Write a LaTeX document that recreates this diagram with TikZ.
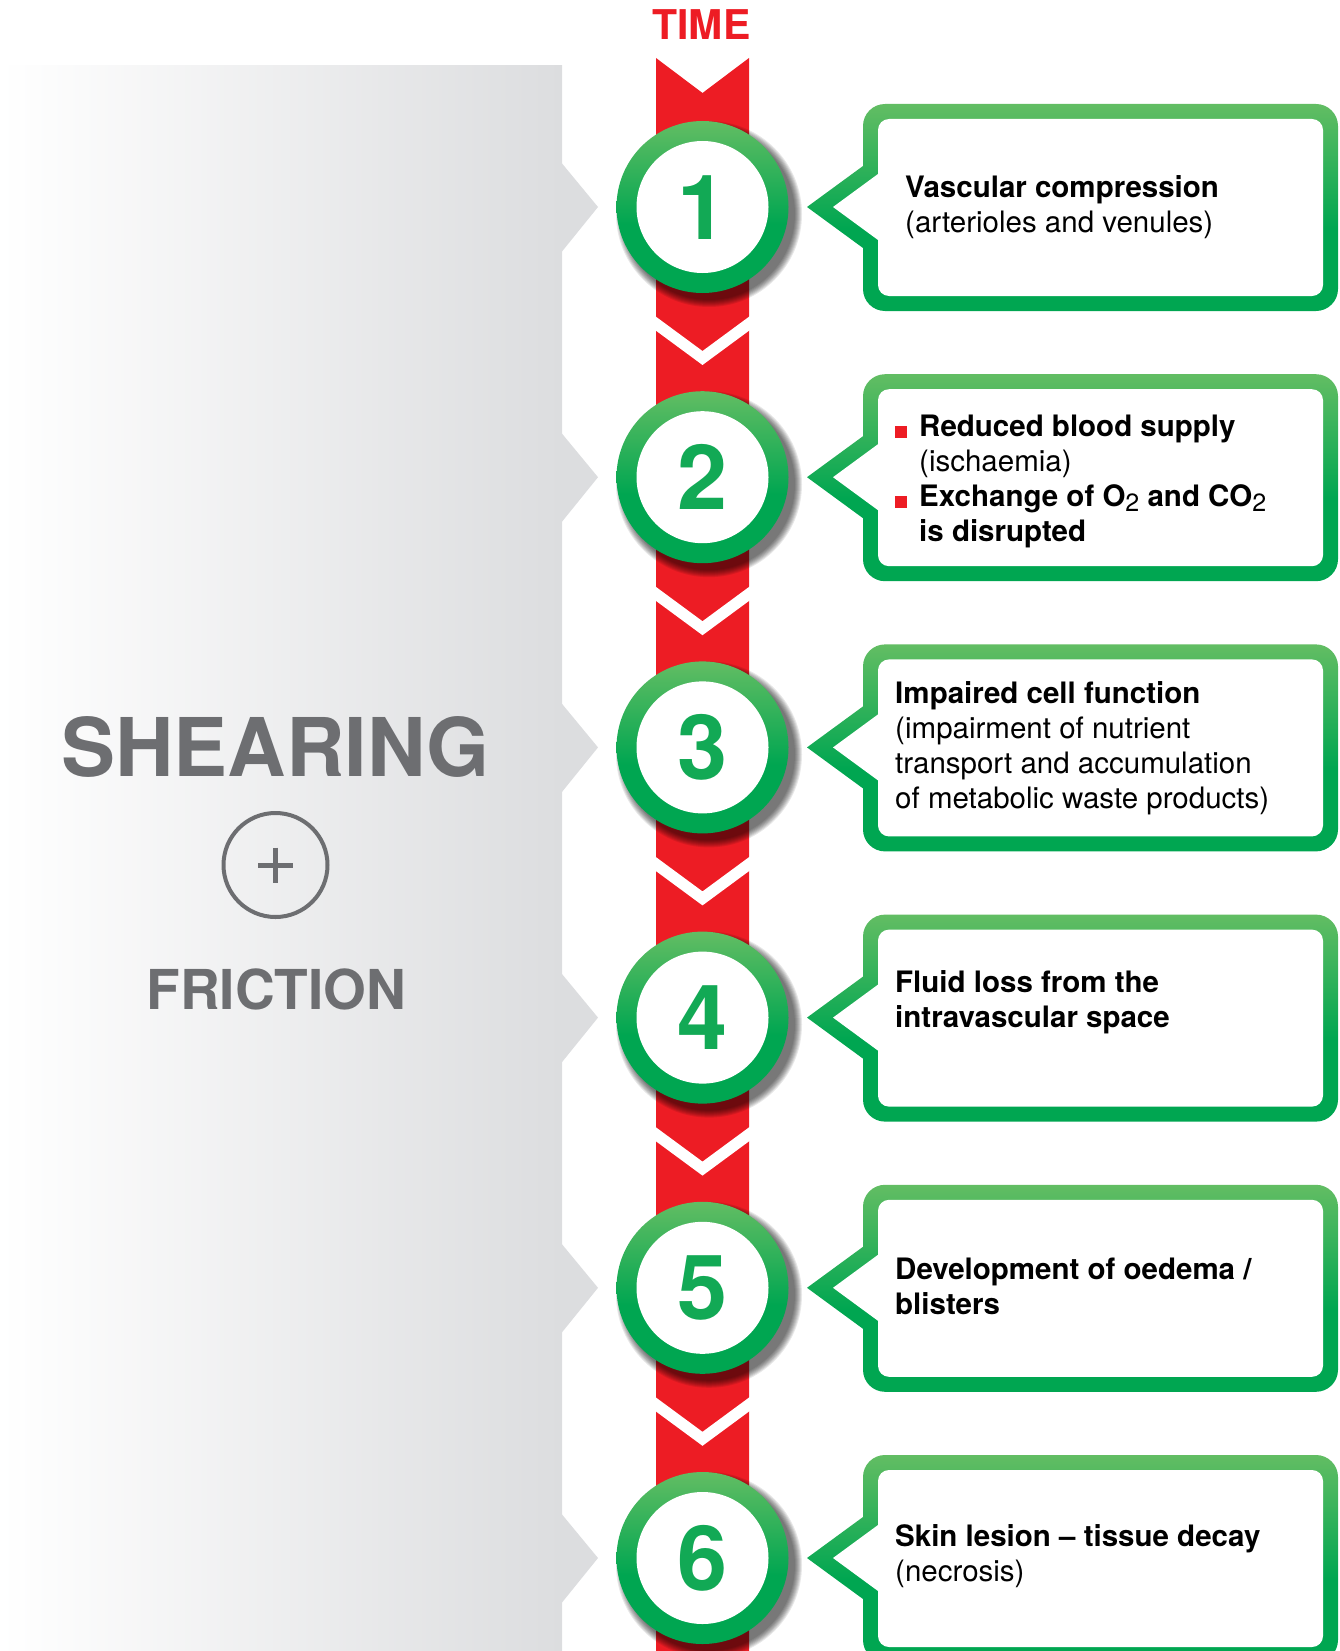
\documentclass[tikz,border=0pt]{standalone}
\usepackage{fontspec}
\setmainfont{TeX Gyre Heros}

\definecolor{timered}{HTML}{ED1C24}
\definecolor{gdark}{HTML}{00A651}
\definecolor{glight}{HTML}{62BD63}
\definecolor{gnum}{HTML}{12A955}
\definecolor{labelgray}{HTML}{6D6E71}
\definecolor{panelgray}{HTML}{DCDDDF}

% green rim: dark lower part, lighter towards the top
\pgfdeclareverticalshading{greenfade}{100bp}{color(0bp)=(gdark); color(25bp)=(gdark); color(45bp)=(gdark); color(75bp)=(glight); color(100bp)=(glight)}

% subscript digit in the chemical formulas
\newcommand\chemsub[1]{\raisebox{-5pt}{\fontsize{25}{25}\selectfont\mdseries #1}}
% red square bullet
\newcommand\redbullet{\makebox[24pt][l]{\textcolor{timered}{\rule[-2pt]{12pt}{12pt}}}}

% numbered disc on the time line: #1 = vertical centre, #2 = number
\newcommand\stepdisc[2]{%
  \foreach \k in {0,...,7}
    \fill[black, opacity=0.09] (709,#1+7) circle ({93pt-\k pt});
  \shade[shading=greenfade] (702.5,#1) circle (86pt);
  \fill[white] (702.5,#1) circle (66pt);
  \node[digit] (num#2) at (702.5,#1+32) {#2};
}

% speech-bubble frame pointing left: #1 = vertical centre
\newcommand\stepbubble[1]{%
  \shade[shading=greenfade]
    (863,#1-41) -- (807,#1) -- (863,#1+41) -- cycle
    [rounded corners=22pt] (863,#1-103) rectangle (1338,#1+104);
  \fill[white]
    (878,#1-33) -- (833,#1) -- (878,#1+33) -- cycle
    [rounded corners=11pt] (878,#1-88) rectangle (1323,#1+89);
}

% arrow-shaped bump of the grey panel
\newcommand\panelbump[1]{%
  \fill[panelgray] (560,#1-46) -- (598,#1) -- (560,#1+47) -- cycle;
}

% white chevron cut into the red band
\newcommand\bandchevron[1]{%
  \fill[white] (655,#1+109) -- (702.5,#1+144) -- (750,#1+109)
    -- (750,#1+123) -- (702.5,#1+158) -- (655,#1+123) -- cycle;
}

\begin{document}
\begin{tikzpicture}[x=1pt, y=-1pt,
  bodytext/.style={anchor=north west, inner sep=0pt, align=left,
    font=\fontsize{29.5}{35}\selectfont, text=black},
  digit/.style={anchor=base, inner sep=0pt,
    font=\fontsize{90}{90}\selectfont\bfseries, text=gnum},
  sidelabel/.style={anchor=base, inner sep=0pt, text=labelgray},
]
\useasboundingbox (0,0) rectangle (1340,1651);
\clip (0,0) rectangle (1340,1651);

% grey panel on the left
\shade[left color=white, right color=panelgray] (0,66) rectangle (562,1651);
\foreach \c in {207,477.2,747.4,1017.6,1287.8,1558} { \panelbump{\c} }

\node[sidelabel, font=\fontsize{81}{81}\selectfont\bfseries] (shearing) at (275.5,776) {SHEARING};
\node[circle, draw=labelgray, line width=4pt, minimum size=104pt, inner sep=0pt] (plus) at (275.5,865) {};
\draw[labelgray, line width=5pt] (plus.center) +(-17.5,0) -- +(17.5,0);
\draw[labelgray, line width=5pt] (plus.center) +(0,-17.5) -- +(0,17.5);
\node[sidelabel, font=\fontsize{55}{55}\selectfont\bfseries] (friction) at (276.5,1009) {FRICTION};

% time line
\node[anchor=base, inner sep=0pt, text=timered, font=\fontsize{41}{41}\selectfont\bfseries] (time) at (701.5,40) {TIME};
\fill[timered] (656,58) -- (702.5,93) -- (749,58) -- (749,1651) -- (656,1651) -- cycle;
\foreach \c in {207,477.2,747.4,1017.6,1287.8} { \bandchevron{\c} }

% numbered steps
\stepdisc{207}{1}
\stepdisc{477.2}{2}
\stepdisc{747.4}{3}
\stepdisc{1017.6}{4}
\stepdisc{1287.8}{5}
\stepdisc{1558}{6}

% bubbles
\foreach \c in {207,477.2,747.4,1017.6,1287.8,1558} { \stepbubble{\c} }

\node[bodytext] (txt1) at (905,173) {\rule{0pt}{24pt}\textbf{Vascular compression}\\(arterioles and venules)};
\node[bodytext] (txt2) at (895,412) {\rule{0pt}{24pt}\redbullet\textbf{Reduced blood supply}\\
  \hspace*{24pt}(ischaemia)\\
  \redbullet\textbf{Exchange of O\chemsub{2} and CO\chemsub{2}}\\
  \hspace*{24pt}\textbf{is disrupted}};
\node[bodytext] (txt3) at (895,679) {\rule{0pt}{24pt}\textbf{Impaired cell function}\\(impairment of nutrient\\transport and accumulation\\of metabolic waste products)};
\node[bodytext] (txt4) at (895,968) {\rule{0pt}{24pt}\textbf{Fluid loss from the}\\\textbf{intravascular space}};
\node[bodytext] (txt5) at (895,1255) {\rule{0pt}{24pt}\textbf{Development of oedema /}\\\textbf{blisters}};
\node[bodytext] (txt6) at (895,1522) {\rule{0pt}{24pt}\textbf{Skin lesion -- tissue decay}\\(necrosis)};
\end{tikzpicture}
\end{document}
